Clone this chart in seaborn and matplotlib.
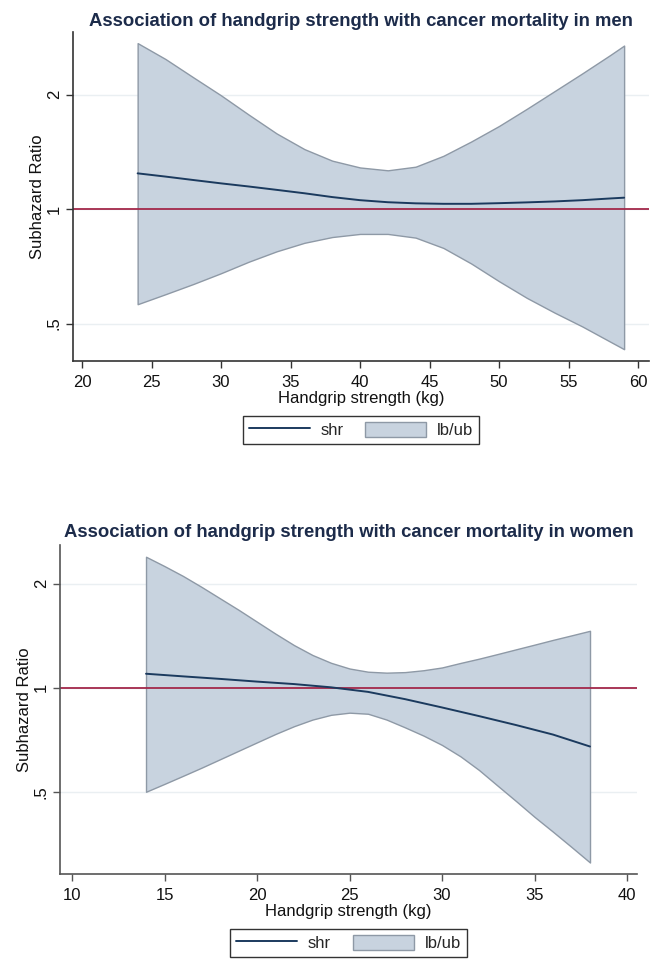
import matplotlib
matplotlib.use('Agg')
import matplotlib.pyplot as plt
from matplotlib.lines import Line2D
from matplotlib.patches import Patch
import seaborn as sns
import pandas as pd

# men panel, values (subhazard ratio, log scale)
men_band_x = [24, 26, 28, 30, 32, 34, 36, 38, 40, 42, 44, 46, 48, 50, 52, 54, 56, 58, 59]
men_ub = [2.73, 2.48, 2.22, 1.99, 1.77, 1.58, 1.437, 1.34, 1.286, 1.264, 1.292, 1.38, 1.505,
          1.653, 1.834, 2.042, 2.274, 2.54, 2.69]
men_lb = [0.562, 0.597, 0.635, 0.678, 0.727, 0.774, 0.815, 0.844, 0.86, 0.86, 0.841, 0.79,
          0.719, 0.646, 0.584, 0.534, 0.491, 0.448, 0.428]
men_line_x = men_band_x
men_shr = [1.241, 1.217, 1.192, 1.168, 1.146, 1.123, 1.100, 1.075, 1.055, 1.042, 1.035, 1.032,
           1.032, 1.036, 1.041, 1.047, 1.055, 1.066, 1.071]

# women panel
women_band_x = [14, 15, 16, 17, 18, 19, 20, 21, 22, 23, 24, 25, 26, 27, 28, 29, 30, 31, 32,
                33, 34, 35, 36, 37, 38]
women_ub = [2.395, 2.25, 2.107, 1.959, 1.815, 1.682, 1.553, 1.434, 1.329, 1.244, 1.181, 1.137,
            1.113, 1.106, 1.11, 1.124, 1.145, 1.18, 1.214, 1.252, 1.292, 1.333, 1.376, 1.418,
            1.462]
women_lb = [0.5, 0.527, 0.556, 0.587, 0.621, 0.657, 0.695, 0.735, 0.774, 0.809, 0.835, 0.847,
            0.841, 0.809, 0.768, 0.727, 0.683, 0.633, 0.578, 0.521, 0.47, 0.423, 0.383, 0.346,
            0.312]
women_line_x = [14, 16, 18, 20, 22, 24, 26, 28, 30, 32, 34, 36, 38]
women_shr = [1.098, 1.079, 1.061, 1.042, 1.025, 1.003, 0.973, 0.927, 0.877, 0.828, 0.780,
             0.732, 0.676]

y_ticks = [0.5, 1, 2]
y_labels = ['.5', '1', '2']
men_xticks = [20, 25, 30, 35, 40, 45, 50, 55, 60]
women_xticks = [10, 15, 20, 25, 30, 35, 40]

sns.set_theme(style='white')
plt.rcParams['font.family'] = ['Liberation Sans', 'DejaVu Sans']

band_fill = '#c8d3df'
band_edge = '#8e99a6'
line_col = '#1b3a5e'
ref_col = '#a3284a'
title_col = '#1c2b4a'
grid_col = '#eaeff2'


def draw_panel(ax, band_x, lb, ub, line_x, shr, xticks, xlim, ylim, title, title_y,
               spine_col, ylabelpad):
    band = pd.DataFrame({'x': band_x, 'lb': lb, 'ub': ub})
    line = pd.DataFrame({'x': line_x, 'shr': shr})
    ax.set_yscale('log')
    for t in y_ticks:
        ax.axhline(t, color=grid_col, lw=1.0, zorder=0)
    ax.fill_between(band['x'], band['lb'], band['ub'], facecolor=band_fill,
                    edgecolor=band_edge, lw=1.0, zorder=1)
    ax.axhline(1, color=ref_col, lw=1.3, zorder=2)
    sns.lineplot(data=line, x='x', y='shr', ax=ax, color=line_col, lw=1.4, zorder=3)

    ax.set_xlim(*xlim)
    ax.set_ylim(*ylim)
    ax.set_xticks(xticks)
    ax.set_xticklabels([str(v) for v in xticks])
    ax.set_yticks(y_ticks)
    ax.set_yticklabels(y_labels, rotation=90, va='center')
    ax.minorticks_off()
    ax.tick_params(axis='both', which='major', length=5, width=1.0,
                   color=spine_col, labelsize=12, bottom=True, left=True,
                   labelcolor='#111111')
    ax.tick_params(axis='x', pad=5)
    ax.tick_params(axis='y', pad=3)
    for side in ['top', 'right']:
        ax.spines[side].set_visible(False)
    for side in ['left', 'bottom']:
        ax.spines[side].set_color(spine_col)
        ax.spines[side].set_linewidth(1.2)

    ax.set_xlabel('Handgrip strength (kg)', fontsize=12, labelpad=1, color='#111111')
    ax.set_ylabel('Subhazard Ratio', fontsize=12, labelpad=ylabelpad, color='#111111')
    ax.text(0.5, title_y, title, transform=ax.transAxes, ha='center', va='center',
            fontsize=13.3, fontweight='bold', color=title_col)

    handles = [Line2D([0], [0], color=line_col, lw=1.4),
               Patch(facecolor=band_fill, edgecolor=band_edge, lw=1.0)]
    leg = ax.legend(handles, ['shr', 'lb/ub'], loc='upper center',
                    bbox_to_anchor=(0.5, -0.167), ncol=2, frameon=True,
                    fancybox=False, edgecolor='black', fontsize=12,
                    handlelength=3.65, handleheight=1.0, columnspacing=1.3,
                    handletextpad=0.65, borderpad=0.35, borderaxespad=0)
    leg.get_frame().set_linewidth(1.0)


fig = plt.figure(figsize=(6.66, 9.71), dpi=100)
ax1 = fig.add_axes([73 / 666, 1 - 361 / 971, (649 - 73) / 666, (361 - 32) / 971])
ax2 = fig.add_axes([60 / 666, 1 - 874 / 971, (637 - 60) / 666, (874 - 545) / 971])

draw_panel(ax1, men_band_x, men_lb, men_ub, men_line_x, men_shr, men_xticks,
           (19.35, 60.79), (0.3985, 2.92),
           'Association of handgrip strength with cancer mortality in men', 1.032,
           '#333333', 1.5)
draw_panel(ax2, women_band_x, women_lb, women_ub, women_line_x, women_shr, women_xticks,
           (9.35, 40.54), (0.289, 2.59),
           'Association of handgrip strength with cancer mortality in women', 1.037,
           '#555555', 1.0)

fig.savefig('out.png', dpi=100)
